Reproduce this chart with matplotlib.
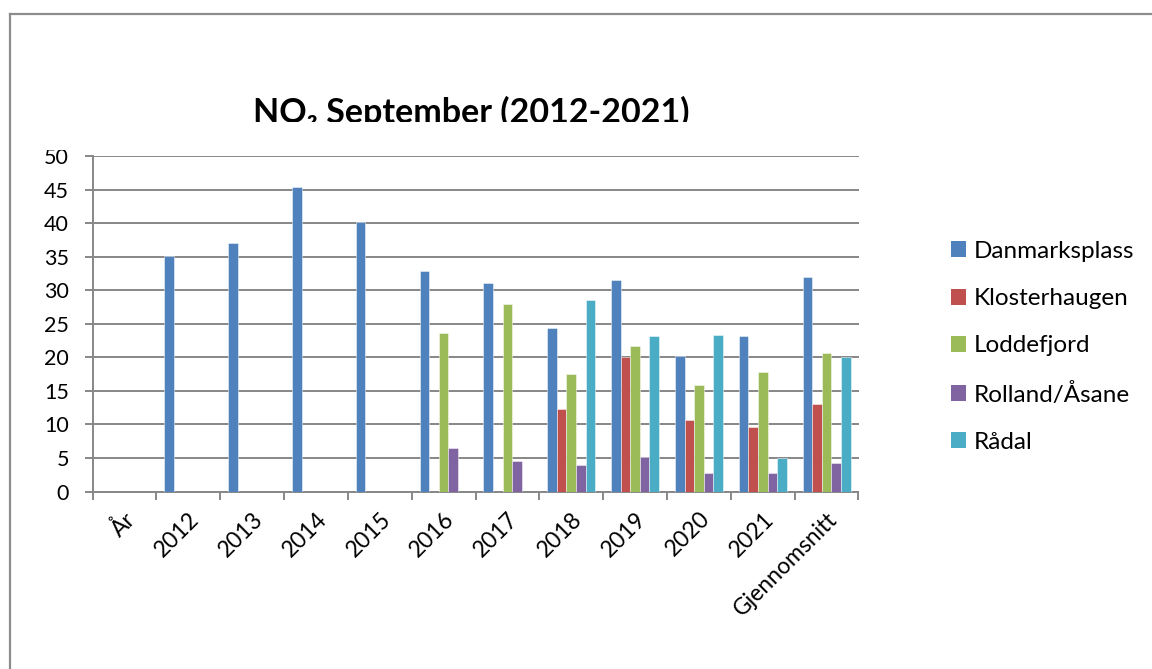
import numpy as np
import matplotlib
matplotlib.use("Agg")
import matplotlib.pyplot as plt
from matplotlib.patches import Rectangle
from matplotlib.lines import Line2D

plt.rcParams['font.family'] = ['Lato', 'DejaVu Sans']

categories = ["År", "2012", "2013", "2014", "2015", "2016", "2017", "2018",
              "2019", "2020", "2021", "Gjennomsnitt"]
nan = np.nan
danmarksplass = [nan, 35.1, 37.0, 45.4, 40.1, 32.9, 31.0, 24.3, 31.5, 20.2, 23.1, 32.0]
klosterhaugen = [nan, nan, nan, nan, nan, nan, nan, 12.3, 20.1, 10.6, 9.6, 13.1]
loddefjord = [nan, nan, nan, nan, nan, 23.6, 28.0, 17.5, 21.7, 15.8, 17.8, 20.7]
rolland = [nan, nan, nan, nan, nan, 6.5, 4.5, 3.9, 5.1, 2.7, 2.7, 4.2]
radal = [nan, nan, nan, nan, nan, nan, nan, 28.6, 23.1, 23.3, 5.0, 20.0]

series_names = ["Danmarksplass", "Klosterhaugen", "Loddefjord", "Rolland/Åsane", "Rådal"]
series = [danmarksplass, klosterhaugen, loddefjord, rolland, radal]
colors = ["#4F81BD", "#C0504D", "#9BBB59", "#8064A2", "#4BACC6"]

W, H = 1152, 669
fig = plt.figure(figsize=(W / 100, H / 100), dpi=100)

def fx(px):
    return px / W

def fy(py):
    return 1 - py / H

ax_l, ax_r, ax_t, ax_b = 92.5, 858.5, 156, 491.5
ax = fig.add_axes([fx(ax_l), fy(ax_b), fx(ax_r - ax_l), (ax_b - ax_t) / H])

grid_col = "#878787"
x = np.arange(len(categories))
bw = 0.15
for i, (name, vals, c) in enumerate(zip(series_names, series, colors)):
    offs = (i - 2) * bw
    ax.bar(x + offs, vals, width=bw, color=c, edgecolor=(1, 1, 1, 0.55),
           linewidth=0.6, label=name, zorder=3)

ax.set_xlim(-0.5, len(categories) - 0.5)
ax.set_ylim(0, 50)
ax.set_yticks(np.arange(0, 51, 5))
ax.yaxis.grid(True, color=grid_col, linewidth=1.4, zorder=0)
ax.set_axisbelow(True)
for s in ["top", "right"]:
    ax.spines[s].set_visible(False)
for s in ["left", "bottom"]:
    ax.spines[s].set_color(grid_col)
    ax.spines[s].set_linewidth(1.4)

ax.set_xticks(np.arange(-0.5, len(categories), 1))
ax.set_xticklabels([])
ax.set_xticks(x, minor=True)
ax.set_xticklabels(categories, minor=True, rotation=45, ha="right", va="top",
                   rotation_mode="anchor", fontsize=16.5)
ax.tick_params(axis="x", which="major", length=6, width=1.4, color=grid_col)
ax.tick_params(axis="x", which="minor", length=0, pad=12)
ax.tick_params(axis="y", length=6, width=1.4, color=grid_col, labelsize=15.5, pad=11)

# Title (clipped at bottom like the reference)
fig.text(fx(471.5), fy(123), "NO\u2082 September (2012-2021)", ha="center",
         va="baseline", fontsize=24.5, fontweight="bold", color="black")
fig.add_artist(Rectangle((0.02, fy(150)), 0.9, (150 - 122) / H,
                         transform=fig.transFigure, facecolor="white",
                         edgecolor="none", zorder=10))

# Legend
handles = [Rectangle((0, 0), 1, 1, facecolor=c, edgecolor="none") for c in colors]
fig.legend(handles, series_names, loc="upper left",
           bbox_to_anchor=(fx(951), fy(241)), frameon=False, fontsize=17.5,
           handlelength=0.63, handleheight=0.63, handletextpad=0.3,
           labelspacing=1.08, borderaxespad=0, borderpad=0)

# Outer frame
frame_col = "#8C8C8C"
fig.add_artist(Line2D([fx(10), fx(10)], [fy(14), 0], transform=fig.transFigure,
                      color=frame_col, linewidth=1.6))
fig.add_artist(Line2D([fx(10), 1], [fy(14), fy(14)], transform=fig.transFigure,
                      color=frame_col, linewidth=1.6))

fig.savefig("out.png", dpi=100, facecolor="white")
